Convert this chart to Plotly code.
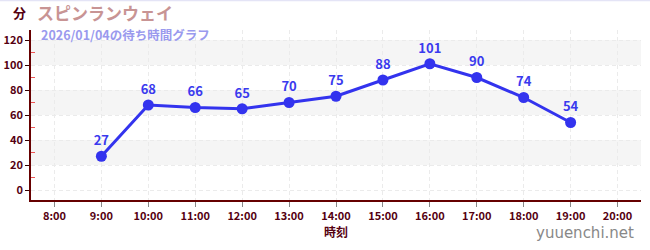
import plotly.graph_objects as go

hours = [9, 10, 11, 12, 13, 14, 15, 16, 17, 18, 19]
waits = [27, 68, 66, 65, 70, 75, 88, 101, 90, 74, 54]
tick_vals = list(range(8, 21))
tick_text = [f"{h}:00" for h in tick_vals]
title = "スピンランウェイ"
subtitle = "2026/01/04の待ち時間グラフ"

FONT = "Noto Sans CJK JP"
W, H = 650, 250
ML, MR, MT, MB = 31, 9, 30, 50

fig = go.Figure()
fig.add_trace(go.Scatter(
    x=hours, y=waits, mode="lines+markers+text",
    text=[str(v) for v in waits], textposition="top center",
    textfont=dict(color="#3a3aee", size=13, family=FONT, weight="bold"),
    line=dict(color="#3333ee", width=3),
    marker=dict(color="#3333ee", size=11),
    cliponaxis=False, hoverinfo="skip",
))
for y0 in [20, 60, 100]:
    fig.add_hrect(y0=y0, y1=y0 + 20, fillcolor="#f5f5f5", line_width=0, layer="below")

fig.update_layout(
    width=W, height=H, margin=dict(l=ML, r=MR, t=MT, b=MB, autoexpand=False),
    plot_bgcolor="white", paper_bgcolor="white", showlegend=False,
    font=dict(family=FONT),
    xaxis=dict(range=[7.5, 20.5], tickvals=tick_vals, ticktext=tick_text,
               showgrid=True, gridcolor="#ebebeb", griddash="4px,3px", gridwidth=1,
               showline=True, linecolor="#660000", linewidth=1.5,
               ticks="outside", tickcolor="#888888", ticklen=5,
               tickfont=dict(color="#550011", size=11, weight="bold"),
               title=dict(text="時刻", font=dict(color="#550011", size=12, weight="bold"), standoff=6),
               zeroline=False, automargin=False),
    yaxis=dict(range=[-8, 128], tickvals=[0, 20, 40, 60, 80, 100, 120],
               showgrid=True, gridcolor="#ebebeb", griddash="4px,3px", gridwidth=1,
               showline=True, linecolor="#660000", linewidth=1.5,
               ticks="outside", tickcolor="#330000", ticklen=4,
               tickfont=dict(color="#550011", size=11, weight="bold"),
               minor=dict(tickvals=[10, 30, 50, 70, 90, 110], ticks="inside", ticklen=4,
                          tickcolor="#ee5555", showgrid=False),
               zeroline=False, automargin=False),
)

def ax(X):
    return (X - ML) / (W - ML - MR)
def ay(Y):
    return 1 - (Y - MT) / (H - MT - MB)

fig.add_shape(type="line", xref="paper", yref="paper", x0=ax(0), x1=ax(W), y0=ay(0.5), y1=ay(0.5),
              line=dict(color="#e4e4f6", width=1.5))
fig.add_annotation(text="分", x=ax(19), y=ay(13), xref="paper", yref="paper", yanchor="middle",
                   xanchor="center", showarrow=False, font=dict(color="#550011", size=13, weight="bold"))
fig.add_annotation(text=title, x=ax(35), y=ay(13), xref="paper", yref="paper", yanchor="middle",
                   xanchor="left", showarrow=False, font=dict(color="#c89494", size=17, weight="bold"))
fig.add_annotation(text=subtitle, x=ax(39), y=ay(34), xref="paper", yref="paper", yanchor="middle",
                   xanchor="left", showarrow=False, font=dict(color="#9a9aee", size=12.5, weight="bold"))
fig.add_annotation(text="yuuenchi.net", x=ax(636), y=ay(233), xref="paper", yref="paper", yanchor="middle",
                   xanchor="right", showarrow=False, font=dict(color="#888888", size=15, family="DejaVu Sans"))
fig.write_html("out.html")
